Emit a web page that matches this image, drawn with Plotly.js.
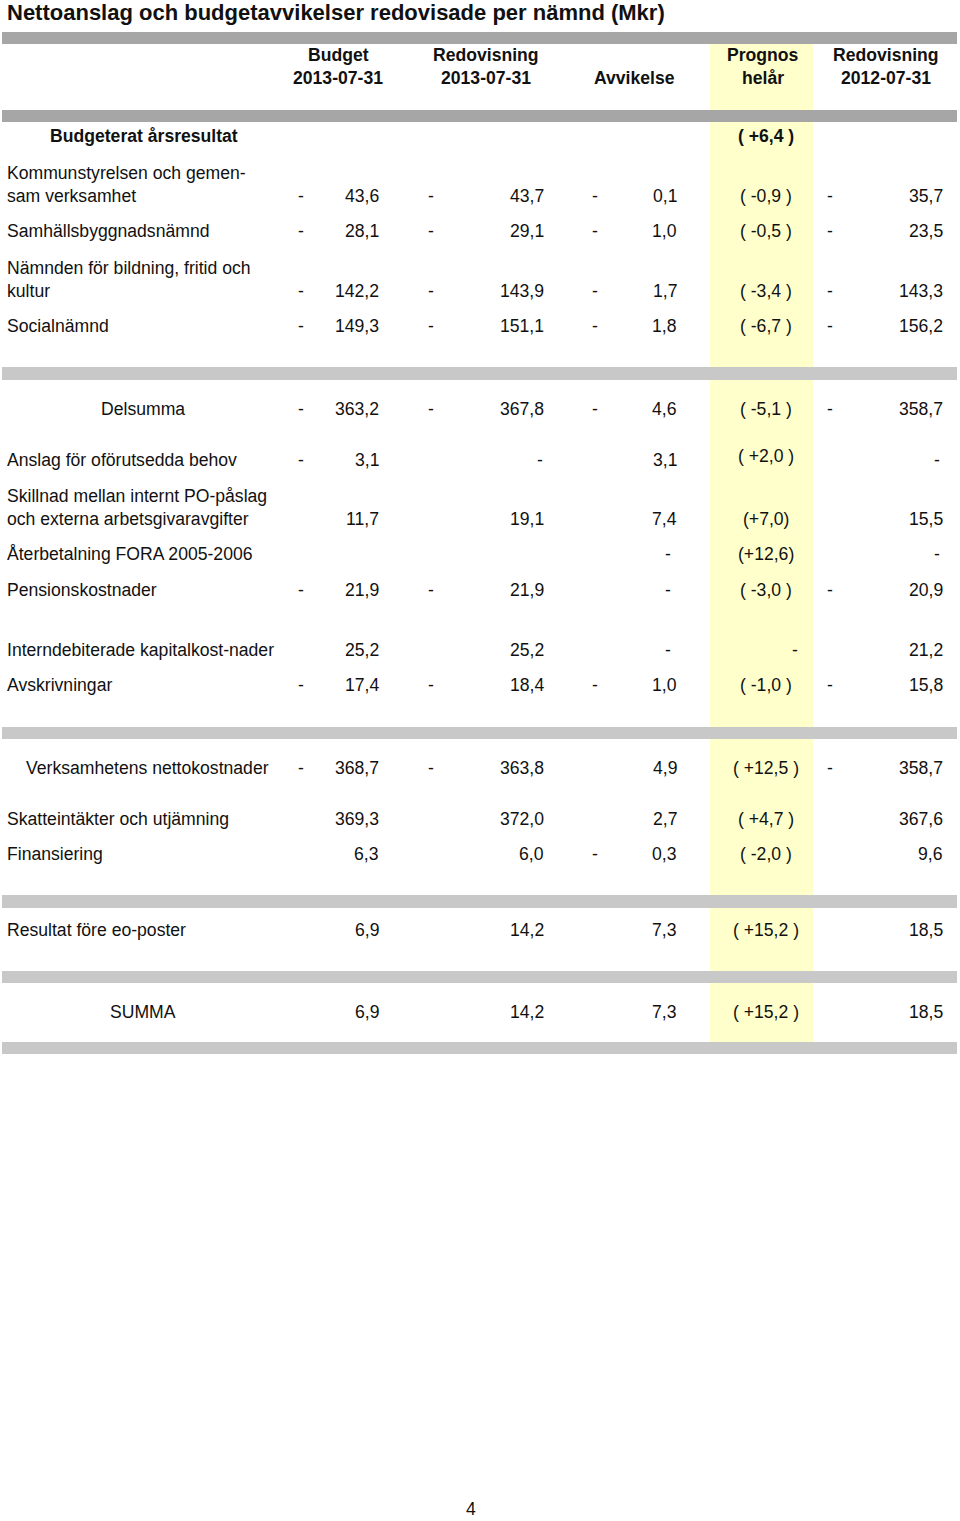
<!DOCTYPE html>
<html>
<head>
<meta charset="utf-8">
<script src="https://cdn.plot.ly/plotly-3.0.1.min.js"></script>
<style>html,body{margin:0;padding:0;background:#fff;}#chart{width:960px;height:1521px;}</style>
</head>
<body>
<div id="chart"></div>
<script>
// ---------- DATA ----------
var title = "Nettoanslag och budgetavvikelser redovisade per nämnd (Mkr)";
var headerTop = ["Budget", "Redovisning", "", "Prognos", "Redovisning"];
var headerBottom = ["2013-07-31", "2013-07-31", "Avvikelse", "helår", "2012-07-31"];

var rowLabels = [
  "Budgeterat årsresultat",
  "Kommunstyrelsen och gemen-|sam verksamhet",
  "Samhällsbyggnadsnämnd",
  "Nämnden för bildning, fritid och|kultur",
  "Socialnämnd",
  "Delsumma",
  "Anslag för oförutsedda behov",
  "Skillnad mellan internt PO-påslag|och externa arbetsgivaravgifter",
  "Återbetalning FORA 2005-2006",
  "Pensionskostnader",
  "Interndebiterade kapitalkost-nader",
  "Avskrivningar",
  "Verksamhetens nettokostnader",
  "Skatteintäkter och utjämning",
  "Finansiering",
  "Resultat före eo-poster",
  "SUMMA"
];
var budget2013 = [null, -43.6, -28.1, -142.2, -149.3, -363.2, -3.1, 11.7, null, -21.9, 25.2, -17.4, -368.7, 369.3, 6.3, 6.9, 6.9];
var redovisning2013 = [null, -43.7, -29.1, -143.9, -151.1, -367.8, "-", 19.1, null, -21.9, 25.2, -18.4, -363.8, 372.0, 6.0, 14.2, 14.2];
var avvikelse = [null, -0.1, -1.0, -1.7, -1.8, -4.6, 3.1, 7.4, "-", "-", "-", -1.0, 4.9, 2.7, -0.3, 7.3, 7.3];
var prognosHelar = ["( +6,4 )", "( -0,9 )", "( -0,5 )", "( -3,4 )", "( -6,7 )", "( -5,1 )", "( +2,0 )", "(+7,0)", "(+12,6)", "( -3,0 )", "-", "( -1,0 )", "( +12,5 )", "( +4,7 )", "( -2,0 )", "( +15,2 )", "( +15,2 )"];
var redovisning2012 = [null, -35.7, -23.5, -143.3, -156.2, -358.7, "-", 15.5, "-", -20.9, 21.2, -15.8, -358.7, 367.6, 9.6, 18.5, 18.5];
var pageNumber = "4";

// ---------- LAYOUT CONSTANTS ----------
var FONT = "Liberation Sans, Arial, Helvetica, sans-serif";
var FS = 17.6;
var INK = "#111111";
var rowY = [136, 196, 231, 291, 326, 409, 460, 519, 554, 590, 650, 685, 768, 819, 854, 930, 1012];
var lineGap = 23;
var labelStyle = [  // [x, anchor, bold]
  [49, "left", true], [6, "left"], [6, "left"], [6, "left"], [6, "left"],
  [143, "center"], [6, "left"], [6, "left"], [6, "left"], [6, "left"],
  [6, "left"], [6, "left"], [25, "left"], [6, "left"], [6, "left"],
  [6, "left"], [143, "center"]
];
// numeric columns: sign x (center), number right edge, standalone dash center
var numCols = [
  {data: budget2013, sign: 301, right: 380, dash: 373},
  {data: redovisning2013, sign: 431, right: 545, dash: 540},
  {data: avvikelse, sign: 595, right: 678, dash: 668},
  {data: redovisning2012, sign: 830, right: 944, dash: 937}
];
var prognosX = 766, prognosDashX = 795;
var headerX = [338, 486, 634, 763, 886];
var barsDark = [[32, 44], [110, 122]];
var barsLight = [[367, 380], [727, 739], [895, 908], [971, 983], [1042, 1054]];

function fmt(v) { return Math.abs(v).toFixed(1).replace(".", ","); }
function ann(x, y, text, anchor, opts) {
  opts = opts || {};
  return {
    x: x, y: y, xref: "x", yref: "y", text: text, showarrow: false,
    xanchor: anchor || "left", yanchor: opts.yanchor || "middle", borderpad: 0,
    font: {family: FONT, size: opts.size || FS, color: INK}
  };
}

var annotations = [];
annotations.push(ann(6, 12, "<b>" + title + "</b>", "left", {size: 22}));
for (var h = 0; h < headerX.length; h++) {
  if (headerTop[h]) annotations.push(ann(headerX[h], 55, "<b>" + headerTop[h] + "</b>", "center"));
  if (headerBottom[h]) annotations.push(ann(headerX[h], 78, "<b>" + headerBottom[h] + "</b>", "center"));
}
for (var r = 0; r < rowLabels.length; r++) {
  var st = labelStyle[r];
  var parts = rowLabels[r].split("|");
  for (var p = 0; p < parts.length; p++) {
    var yy = rowY[r] - (parts.length - 1 - p) * lineGap;
    var t = st[2] ? "<b>" + parts[p] + "</b>" : parts[p];
    annotations.push(ann(st[0], yy, t, st[1]));
  }
  for (var c = 0; c < numCols.length; c++) {
    var col = numCols[c], v = col.data[r];
    if (v === null || v === undefined) continue;
    if (v === "-") { annotations.push(ann(col.dash, rowY[r], "-", "center")); continue; }
    if (v < 0) annotations.push(ann(col.sign, rowY[r], "-", "center"));
    annotations.push(ann(col.right, rowY[r], fmt(v), "right"));
  }
  var pg = prognosHelar[r];
  if (pg) {
    var py = rowY[r] - (r === 6 ? 4 : 0);
    if (pg === "-") annotations.push(ann(prognosDashX, py, "-", "center"));
    else annotations.push(ann(prognosX, py, st[2] ? "<b>" + pg + "</b>" : pg, "center"));
  }
}
annotations.push(ann(471, 1520, pageNumber, "center", {yanchor: "bottom"}));

var shapes = [];
shapes.push({type: "rect", xref: "x", yref: "y", x0: 710, x1: 813, y0: 44, y1: 110, fillcolor: "#ffffcc", line: {width: 0}, layer: "below"});
shapes.push({type: "rect", xref: "x", yref: "y", x0: 710, x1: 813, y0: 122, y1: 1042, fillcolor: "#ffffcc", line: {width: 0}, layer: "below"});
barsDark.forEach(function (b) {
  shapes.push({type: "rect", xref: "x", yref: "y", x0: 2, x1: 957, y0: b[0], y1: b[1], fillcolor: "#a6a6a6", line: {width: 0}, layer: "below"});
});
barsLight.forEach(function (b) {
  shapes.push({type: "rect", xref: "x", yref: "y", x0: 2, x1: 957, y0: b[0], y1: b[1], fillcolor: "#c8c8c8", line: {width: 0}, layer: "below"});
});

var layout = {
  width: 960, height: 1521,
  margin: {l: 0, r: 0, t: 0, b: 0, pad: 0},
  paper_bgcolor: "#ffffff", plot_bgcolor: "#ffffff",
  showlegend: false,
  xaxis: {range: [0, 960], visible: false, fixedrange: true},
  yaxis: {range: [1521, 0], visible: false, fixedrange: true},
  shapes: shapes,
  annotations: annotations
};
Plotly.newPlot("chart", [{x: [], y: [], type: "scatter", mode: "markers", hoverinfo: "skip"}], layout, {staticPlot: true, displayModeBar: false});
</script>
</body>
</html>
